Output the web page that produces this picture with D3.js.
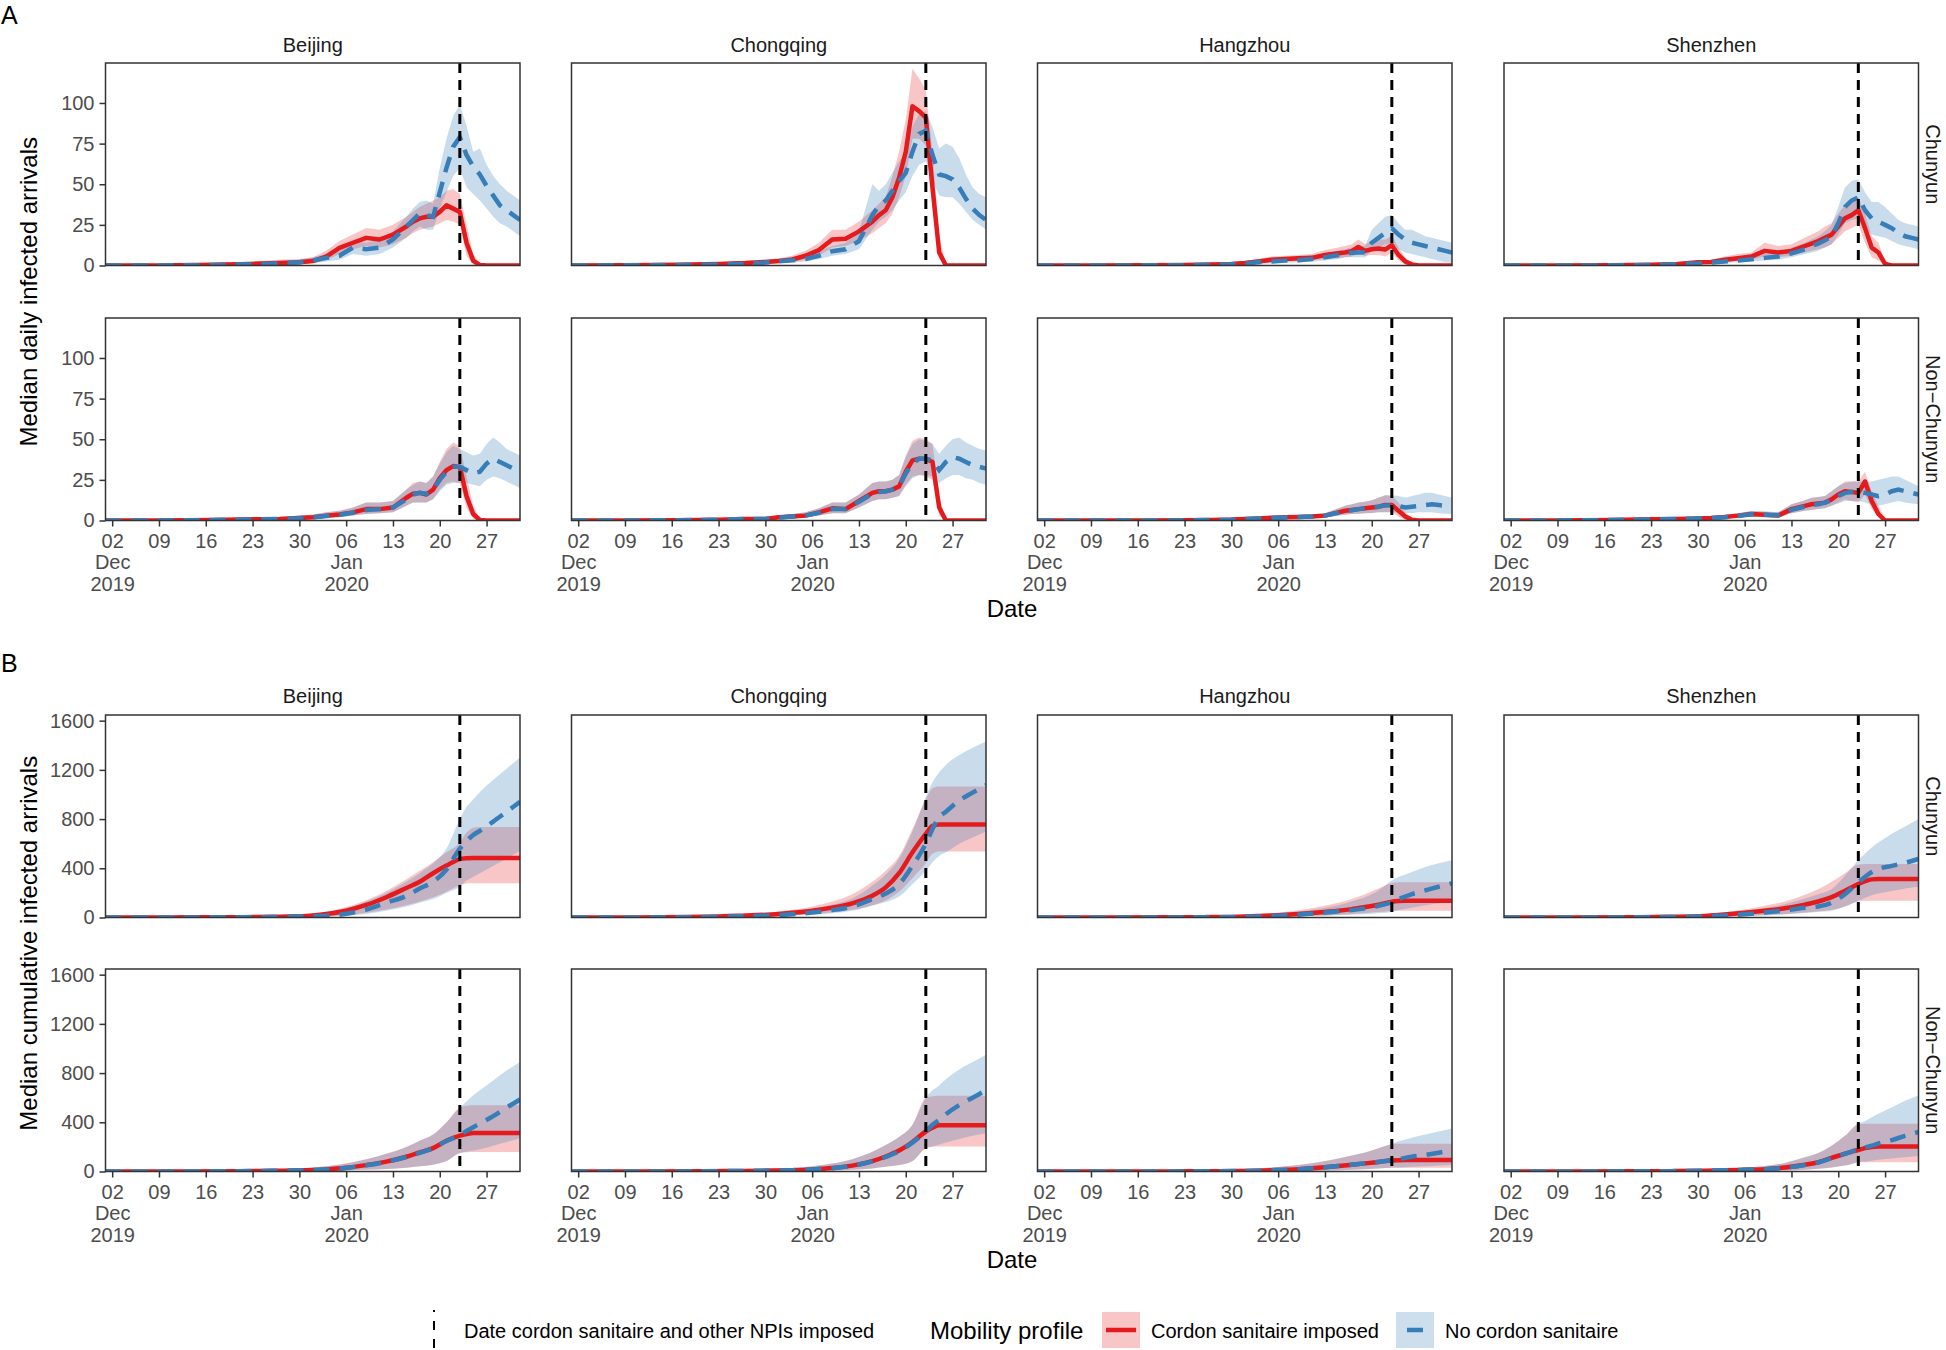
<!DOCTYPE html>
<html>
<head>
<meta charset="utf-8">
<script src="https://cdn.jsdelivr.net/npm/d3@7"></script>
<style>
  body { margin: 0; background: #fff; }
  svg { font-family: "Liberation Sans", Arial, Helvetica, sans-serif; }
</style>
</head>
<body>
<svg id="chart" width="1946" height="1350"></svg>
<script>
// ---- data: day offsets are counted from 1 Dec 2019 ----
const cities = ["Beijing", "Chongqing", "Hangzhou", "Shenzhen"];
const profiles = ["Chunyun", "Non\u2212Chunyun"];
const lockdownDay = 53; // 23 Jan 2020
const dailyTicks = [0, 25, 50, 75, 100];
const cumTicks = [0, 400, 800, 1200, 1600];

const dailyDays = [0, 8, 16, 22, 26, 29, 31, 33, 35, 37, 39, 41, 43, 45, 46, 47, 48, 49, 50, 51, 52, 53, 54, 55, 56, 57, 58, 59, 60, 61, 62];
const cumDays = [0, 10, 20, 25, 30, 33, 36, 39, 42, 45, 47, 49, 51, 53, 54, 55, 56, 58, 60, 62];

// red = cordon sanitaire imposed, blue = no cordon sanitaire
const daily_Beijing_Chunyun = {
  redMid: [0, 0, 0.5, 1, 1.5, 2, 2.7, 5.5, 10.8, 14, 17, 16, 19, 24, 27, 29, 30, 30, 33, 37, 35, 33, 14, 3, 0.3, 0, 0, 0, 0, 0, 0],
  redLo: [0, 0, 0, 0, 0.5, 1, 1.5, 3, 7, 10, 12, 11, 13, 17, 20, 22, 23, 24, 26, 28, 27, 25, 6, 0.5, 0, 0, 0, 0, 0, 0, 0],
  redHi: [0, 0.5, 1.5, 2.5, 3.5, 4, 5, 9, 15, 19, 23, 22, 25, 30, 33, 36, 38, 40, 42, 46, 47, 44, 25, 7, 1, 0, 0, 0, 0, 0, 0],
  blueMid: [0, 0, 0.3, 0.8, 1.2, 2, 3, 4.7, 6, 11, 10, 11, 16, 24, 28, 32, 31, 30, 45, 60, 73, 79, 68, 61, 56, 49, 43, 37, 34, 31, 28],
  blueLo: [0, 0, 0, 0.2, 0.5, 1, 1.5, 2.5, 3.5, 7, 6, 7, 11, 17, 21, 24, 22, 22, 35, 45, 55, 60, 48, 44, 40, 35, 30, 26, 24, 21, 18],
  blueHi: [0, 0.5, 1, 1.8, 2.5, 3.5, 5, 7, 9, 15, 14, 16, 21, 30, 35, 39, 40, 38, 60, 78, 92, 99, 86, 70, 72, 62, 55, 50, 46, 43, 40]
};
const daily_Beijing_NonChunyun = {
  redMid: [0, 0, 0.3, 0.8, 1, 1.5, 2, 3, 3.7, 5, 7, 7, 8, 14, 16.5, 17, 16, 19, 26, 31, 33.5, 33, 15, 4, 0.3, 0, 0, 0, 0, 0, 0],
  redLo: [0, 0, 0, 0.2, 0.4, 0.7, 1, 1.5, 2, 3, 4, 4.5, 5, 9, 11, 11, 11, 13, 19, 23, 24, 23, 8, 1, 0, 0, 0, 0, 0, 0, 0],
  redHi: [0, 0.3, 0.8, 1.5, 2, 3, 3.5, 5, 6, 8, 11, 11, 12, 19, 23, 24, 23, 27, 36, 44, 48, 46, 27, 9, 1, 0, 0, 0, 0, 0, 0],
  blueMid: [0, 0, 0.3, 0.7, 1, 1.4, 2, 2.8, 3.5, 4.8, 6.5, 7, 8, 13, 16, 17, 16.5, 19, 25, 30, 33, 33, 31, 29, 30, 35, 38, 36, 34, 32, 30],
  blueLo: [0, 0, 0, 0.2, 0.4, 0.7, 1, 1.4, 2, 3, 4, 4.5, 5, 9, 11, 11, 11, 13, 18, 22, 23, 23, 23, 22, 21, 25, 27, 26, 24, 22, 20],
  blueHi: [0, 0.3, 0.8, 1.5, 2, 3, 3.5, 5, 6, 8, 11, 11, 12, 19, 22, 24, 23, 27, 35, 42, 46, 44, 42, 40, 41, 47, 51, 48, 44, 42, 40]
};
const daily_Chongqing_Chunyun = {
  redMid: [0, 0.2, 0.5, 1, 1.5, 2.2, 2.8, 3.7, 6, 9.5, 16, 16.5, 21, 27, 31, 34, 42, 54, 70, 98, 95, 91, 48, 8, 0, 0, 0, 0, 0, 0, 0],
  redLo: [0, 0, 0, 0.3, 0.7, 1, 1.5, 2, 3.5, 6, 11, 12, 15, 20, 23, 26, 32, 42, 55, 78, 78, 74, 35, 4, 0, 0, 0, 0, 0, 0, 0],
  redHi: [0, 0.5, 1.2, 2, 2.8, 3.5, 4.5, 6, 9, 14, 22, 22, 27, 34, 38, 42, 55, 70, 90, 121, 115, 108, 70, 18, 1, 0, 0, 0, 0, 0, 0],
  blueMid: [0, 0.1, 0.3, 0.6, 1, 1.8, 2.6, 3.2, 4, 6, 8.8, 10, 15, 31, 37, 40, 46, 52, 57, 70, 81, 83, 68, 56, 55, 53, 48, 41, 35, 31, 28],
  blueLo: [0, 0, 0.1, 0.3, 0.5, 1, 1.5, 2, 2.5, 4, 6, 7, 10, 22, 27, 30, 34, 40, 45, 55, 62, 64, 52, 43, 42, 42, 38, 33, 28, 25, 22],
  blueHi: [0, 0.3, 0.7, 1.2, 1.8, 2.6, 3.5, 4.5, 6, 9, 12, 14, 21, 50, 46, 50, 57, 64, 70, 86, 93, 95, 85, 72, 75, 73, 66, 56, 48, 44, 42]
};
const daily_Chongqing_NonChunyun = {
  redMid: [0, 0, 0.2, 0.5, 1, 1, 2, 2.5, 3, 5, 7.5, 7, 12, 17, 18, 18, 19, 21, 30, 37, 38, 38, 36, 8, 0, 0, 0, 0, 0, 0, 0],
  redLo: [0, 0, 0, 0.2, 0.5, 0.5, 1, 1.3, 1.8, 3, 4.5, 4.5, 8, 12, 13, 13, 14, 15, 22, 27, 28, 27, 25, 3, 0, 0, 0, 0, 0, 0, 0],
  redHi: [0, 0.2, 0.6, 1, 1.8, 2, 3, 4, 5, 7.5, 11, 11, 16, 23, 24, 24, 25, 28, 40, 49, 51, 50, 47, 15, 0.5, 0, 0, 0, 0, 0, 0],
  blueMid: [0, 0, 0.2, 0.5, 0.9, 1, 1.8, 2.4, 3, 4.8, 7, 7, 11.5, 16.5, 17.5, 18, 19, 21, 29, 35, 38, 38, 37, 31, 36, 39, 38, 36, 34, 33, 32],
  blueLo: [0, 0, 0, 0.2, 0.5, 0.5, 1, 1.3, 1.8, 3, 4.5, 4.5, 8, 12, 13, 13, 14, 15, 21, 26, 28, 28, 27, 23, 26, 28, 28, 26, 25, 23, 22],
  blueHi: [0, 0.2, 0.6, 1, 1.8, 2, 3, 4, 5, 7.5, 11, 11, 16, 23, 24, 24, 25, 28, 39, 47, 50, 49, 47, 41, 46, 50, 51, 48, 46, 44, 43]
};
const daily_Hangzhou_Chunyun = {
  redMid: [0, 0, 0.1, 0.3, 0.6, 1, 1.6, 2.5, 3.5, 4, 4.5, 4.7, 6.5, 7.5, 8, 8.8, 11.4, 9, 10, 10.5, 9.8, 12.5, 6.5, 2.5, 0.7, 0, 0, 0, 0, 0, 0],
  redLo: [0, 0, 0, 0.1, 0.3, 0.5, 0.8, 1.2, 2, 2.5, 2.8, 3, 4, 4.5, 5, 5.5, 7, 6, 6.5, 6.5, 5.5, 8, 3, 0.5, 0, 0, 0, 0, 0, 0, 0],
  redHi: [0, 0.2, 0.4, 0.8, 1.3, 2, 2.8, 4, 5.5, 6, 6.5, 7, 9.5, 11, 12, 13, 16, 13, 15, 16, 16, 18, 11, 5, 1.5, 0.3, 0, 0, 0, 0, 0],
  blueMid: [0, 0, 0.1, 0.2, 0.5, 0.8, 1.2, 2, 2.5, 3, 3.3, 4, 5, 6.5, 7.5, 7.8, 8, 8.2, 14, 17, 20, 23, 19, 16, 14, 13, 12, 11, 10, 9, 8],
  blueLo: [0, 0, 0, 0.1, 0.2, 0.4, 0.6, 1, 1.3, 1.7, 2, 2.3, 3, 4, 5, 5, 5, 5, 9, 11, 13, 13, 10, 8, 7, 6, 5, 4, 3, 2, 1.5],
  blueHi: [0, 0.1, 0.3, 0.5, 0.9, 1.3, 2, 3, 4, 4.5, 5, 6, 7.5, 9, 10, 11, 12, 12, 22, 26, 30, 31, 26, 22, 22, 20, 18, 17, 16, 15, 14]
};
const daily_Hangzhou_NonChunyun = {
  redMid: [0, 0, 0, 0.1, 0.3, 0.6, 1, 1.3, 1.7, 2, 2.2, 2.5, 3, 5, 6, 6.5, 7, 7.5, 8, 8.5, 9.5, 9.5, 6, 2.5, 0.5, 0, 0, 0, 0, 0, 0],
  redLo: [0, 0, 0, 0, 0.1, 0.3, 0.5, 0.7, 1, 1.1, 1.2, 1.4, 1.8, 3, 3.5, 4, 4.2, 4.4, 4.6, 5, 5, 5, 2.5, 0.5, 0, 0, 0, 0, 0, 0, 0],
  redHi: [0, 0, 0.2, 0.4, 0.7, 1.1, 1.6, 2, 2.5, 3, 3.3, 3.7, 4.5, 7.5, 9, 10, 11, 11.5, 12.5, 14, 15.5, 15, 11, 5, 1.5, 0.2, 0, 0, 0, 0, 0],
  blueMid: [0, 0, 0, 0.1, 0.3, 0.5, 0.9, 1.2, 1.6, 1.9, 2.1, 2.4, 3, 4.8, 5.8, 6.3, 7, 7.5, 8, 8.5, 9.3, 9.5, 9, 8, 8.5, 9, 9.5, 10, 9.5, 9, 8.5],
  blueLo: [0, 0, 0, 0, 0.1, 0.3, 0.5, 0.7, 1, 1.1, 1.2, 1.4, 1.8, 3, 3.5, 4, 4.2, 4.4, 4.6, 5, 5, 5, 5, 4.5, 4.5, 5, 5, 5, 4.5, 4.2, 4],
  blueHi: [0, 0, 0.2, 0.4, 0.7, 1.1, 1.6, 2, 2.5, 3, 3.3, 3.7, 4.5, 7.5, 9, 10, 11, 11.5, 12.5, 14, 15.5, 15.5, 15, 14, 15, 16, 17, 17, 16, 15, 14]
};
const daily_Shenzhen_Chunyun = {
  redMid: [0, 0, 0.1, 0.5, 1, 2, 2.2, 3.5, 4.5, 5.5, 9, 8, 9, 12, 13.5, 15, 17, 19, 24, 29, 31, 34, 23, 11, 8, 1, 0, 0, 0, 0, 0],
  redLo: [0, 0, 0, 0.3, 0.6, 1, 1.2, 2, 2.8, 3.5, 5.5, 5, 6, 8, 9, 10, 11, 13, 17, 21, 23, 25, 14, 5, 3, 0.2, 0, 0, 0, 0, 0],
  redHi: [0, 0.1, 0.4, 1, 1.8, 3, 3.5, 5.5, 7, 8, 14, 12, 13, 17, 19, 21, 24, 26, 32, 37, 39, 42, 32, 18, 14, 3, 0, 0, 0, 0, 0],
  blueMid: [0, 0, 0.1, 0.3, 0.8, 1.3, 1.8, 2.5, 3, 3.8, 4.7, 5.5, 7.5, 10, 12, 13.5, 15.5, 18, 26, 36, 40, 42, 34, 29, 27, 25, 23, 20, 18, 17, 16],
  blueLo: [0, 0, 0, 0.1, 0.4, 0.7, 1, 1.5, 2, 2.5, 3, 3.5, 5, 7, 8, 9, 11, 13, 19, 26, 28, 29, 23, 19, 18, 17, 15, 13, 12, 11, 10],
  blueHi: [0, 0.1, 0.3, 0.7, 1.3, 2, 2.7, 3.8, 4.5, 5.5, 7, 8, 11, 14, 16, 18, 21, 25, 36, 48, 52, 53, 45, 39, 39, 36, 32, 28, 26, 25, 24]
};
const daily_Shenzhen_NonChunyun = {
  redMid: [0, 0, 0.3, 0.8, 1, 1.3, 1.6, 2.2, 3, 4, 3.5, 3, 7, 9, 10, 10.5, 11, 13, 16, 18, 17.5, 17, 24, 12, 4, 0, 0, 0, 0, 0, 0],
  redLo: [0, 0, 0.1, 0.4, 0.5, 0.7, 0.9, 1.2, 1.8, 2.5, 2, 2, 4.5, 6, 6.5, 7, 7.5, 9, 11, 13, 12, 11, 16, 7, 2, 0, 0, 0, 0, 0, 0],
  redHi: [0, 0.1, 0.6, 1.3, 1.6, 2, 2.4, 3.3, 4.4, 5.8, 5.5, 5, 10, 12.5, 14, 14.5, 15, 18, 21, 24, 24, 24, 30, 18, 9, 1, 0, 0, 0, 0, 0],
  blueMid: [0, 0, 0.3, 0.7, 0.9, 1.2, 1.5, 2, 2.8, 3.8, 3.6, 3.2, 6.5, 8.5, 9.5, 10, 11, 12.5, 15, 17, 17.5, 18, 17, 16, 15, 16, 18, 19, 18, 17, 16],
  blueLo: [0, 0, 0.1, 0.4, 0.5, 0.7, 0.9, 1.2, 1.8, 2.5, 2, 2, 4.5, 6, 6.5, 7, 7.5, 9, 10.5, 12, 12, 12, 11, 10, 9, 10, 11, 12, 11, 10.5, 10],
  blueHi: [0, 0.1, 0.6, 1.3, 1.6, 2, 2.4, 3.3, 4.4, 5.8, 5.5, 5, 10, 12.5, 14, 14.5, 15, 18, 21, 23, 24, 24, 24, 24, 25, 26, 27, 27, 25, 23, 21]
};

const cum_Beijing_Chunyun = {
  redMid: [0, 1, 3, 6, 12, 28, 55, 102, 165, 240, 290, 360, 422, 475, 482, 484, 484, 484, 484, 484],
  redLo: [0, 0, 1, 2, 5, 10, 20, 38, 65, 100, 130, 165, 210, 262, 276, 278, 278, 278, 278, 278],
  redHi: [0, 2, 6, 12, 25, 45, 85, 140, 215, 310, 380, 450, 530, 610, 690, 730, 735, 735, 735, 735],
  blueMid: [0, 0.5, 2, 4, 10, 14, 30, 65, 120, 175, 235, 290, 390, 560, 620, 670, 705, 780, 860, 940],
  blueLo: [0, 0, 0.5, 1, 3, 6, 14, 28, 55, 90, 120, 150, 200, 250, 300, 330, 360, 420, 480, 540],
  blueHi: [0, 1.5, 5, 10, 20, 40, 75, 130, 200, 290, 360, 440, 560, 800, 900, 960, 1020, 1120, 1210, 1300]
};
const cum_Beijing_NonChunyun = {
  redMid: [0, 0.5, 3, 6, 10, 17, 30, 52, 80, 120, 155, 190, 250, 292, 305, 313, 313, 313, 313, 313],
  redLo: [0, 0, 0.5, 1.5, 3, 5, 9, 14, 20, 30, 42, 55, 85, 150, 157, 158, 158, 158, 158, 158],
  redHi: [0, 2, 8, 15, 28, 42, 65, 100, 145, 200, 250, 300, 400, 520, 535, 539, 539, 539, 539, 539],
  blueMid: [0, 0.5, 3, 6, 10, 17, 29, 50, 78, 118, 152, 188, 248, 294, 330, 360, 390, 450, 520, 585],
  blueLo: [0, 0, 0.5, 1.5, 3, 5, 9, 14, 20, 30, 42, 55, 85, 150, 160, 170, 180, 210, 240, 270],
  blueHi: [0, 2, 8, 15, 28, 42, 65, 100, 145, 200, 250, 300, 400, 520, 570, 620, 660, 740, 820, 890]
};
const cum_Chongqing_Chunyun = {
  redMid: [0, 1, 6, 14, 25, 38, 55, 80, 115, 177, 245, 360, 530, 680, 745, 756, 756, 756, 756, 756],
  redLo: [0, 0, 2, 6, 12, 18, 28, 42, 62, 100, 140, 210, 320, 440, 520, 537, 537, 537, 537, 537],
  redHi: [0, 2, 12, 25, 42, 62, 90, 130, 190, 290, 380, 500, 720, 960, 1050, 1065, 1065, 1065, 1065, 1065],
  blueMid: [0, 0.5, 4, 10, 18, 27, 40, 60, 90, 150, 195, 270, 420, 600, 720, 816, 860, 950, 1015, 1075],
  blueLo: [0, 0, 1.5, 4, 9, 14, 22, 35, 55, 95, 125, 170, 270, 380, 450, 500, 530, 600, 650, 700],
  blueHi: [0, 1.5, 9, 20, 34, 50, 72, 105, 155, 260, 350, 480, 700, 980, 1100, 1180, 1240, 1320, 1380, 1430]
};
const cum_Chongqing_NonChunyun = {
  redMid: [0, 0.3, 2, 4, 8, 11, 17, 28, 48, 85, 122, 170, 240, 325, 355, 375, 375, 375, 375, 375],
  redLo: [0, 0, 0.3, 1, 2, 3, 5, 8, 14, 25, 38, 52, 85, 190, 202, 204, 204, 204, 204, 204],
  redHi: [0, 1.5, 6, 12, 20, 28, 42, 65, 100, 160, 215, 280, 380, 600, 612, 615, 615, 615, 615, 615],
  blueMid: [0, 0.3, 2, 4, 8, 11, 17, 27, 46, 82, 118, 165, 235, 325, 380, 420, 465, 540, 600, 660],
  blueLo: [0, 0, 0.3, 1, 2, 3, 5, 8, 14, 25, 38, 52, 85, 190, 205, 220, 235, 265, 290, 310],
  blueHi: [0, 1.5, 6, 12, 20, 28, 42, 65, 100, 160, 215, 280, 380, 600, 660, 700, 750, 830, 890, 950]
};
const cum_Hangzhou_Chunyun = {
  redMid: [0, 0.3, 1.5, 3, 7, 12, 19, 28, 40, 55, 68, 85, 103, 128, 134, 136, 136, 136, 136, 136],
  redLo: [0, 0, 0.4, 1, 2, 4, 7, 10, 15, 22, 28, 36, 45, 52, 54, 54, 54, 54, 54, 54],
  redHi: [0, 1, 4, 8, 16, 26, 40, 58, 85, 120, 150, 190, 235, 280, 286, 286, 286, 286, 286, 286],
  blueMid: [0, 0.2, 1, 2, 5, 9, 15, 23, 35, 50, 60, 74, 95, 125, 150, 170, 190, 220, 250, 278],
  blueLo: [0, 0, 0.2, 0.6, 1.5, 3, 5, 8, 12, 18, 22, 27, 35, 45, 60, 70, 80, 100, 115, 130],
  blueHi: [0, 0.7, 3, 6, 12, 20, 32, 48, 70, 100, 130, 165, 220, 300, 330, 350, 370, 410, 440, 465]
};
const cum_Hangzhou_NonChunyun = {
  redMid: [0, 0.1, 0.8, 2, 4, 7, 12, 19, 30, 44, 55, 66, 78, 90, 92, 93, 93, 93, 93, 93],
  redLo: [0, 0, 0.1, 0.3, 0.8, 1.5, 2.5, 4, 7, 11, 15, 19, 24, 30, 30, 30, 30, 30, 30, 30],
  redHi: [0, 0.8, 4, 8, 15, 24, 36, 52, 75, 105, 130, 155, 190, 222, 226, 226, 226, 226, 226, 226],
  blueMid: [0, 0.1, 0.8, 2, 4, 7, 12, 19, 30, 44, 55, 66, 78, 92, 100, 110, 120, 135, 153, 171],
  blueLo: [0, 0, 0.1, 0.3, 0.8, 1.5, 2.5, 4, 7, 11, 15, 19, 24, 30, 32, 35, 38, 42, 48, 55],
  blueHi: [0, 0.8, 4, 8, 15, 24, 36, 52, 75, 105, 130, 155, 190, 226, 245, 260, 275, 300, 325, 350]
};
const cum_Shenzhen_Chunyun = {
  redMid: [0, 0.5, 3, 6, 13, 24, 38, 55, 75, 105, 130, 165, 218, 272, 295, 310, 313, 313, 313, 313],
  redLo: [0, 0, 0.8, 2, 4, 8, 13, 20, 28, 40, 50, 62, 90, 130, 136, 136, 136, 136, 136, 136],
  redHi: [0, 1.5, 7, 14, 26, 42, 65, 95, 130, 185, 230, 290, 360, 430, 435, 435, 435, 435, 435, 435],
  blueMid: [0, 0.3, 2, 4, 9, 16, 26, 40, 58, 80, 90, 120, 190, 285, 330, 370, 395, 420, 445, 476],
  blueLo: [0, 0, 0.5, 1.2, 3, 6, 10, 16, 24, 36, 45, 55, 90, 136, 160, 180, 195, 215, 235, 250],
  blueHi: [0, 1, 5, 10, 20, 33, 52, 78, 108, 155, 190, 230, 340, 465, 520, 570, 610, 680, 740, 800]
};
const cum_Shenzhen_NonChunyun = {
  redMid: [0, 0.2, 1.5, 3, 7, 10, 14, 19, 32, 55, 75, 110, 145, 175, 190, 200, 204, 204, 204, 204],
  redLo: [0, 0, 0.2, 0.6, 1.5, 2.5, 3.5, 5, 9, 15, 22, 32, 48, 74, 76, 76, 76, 76, 76, 76],
  redHi: [0, 1, 5, 9, 16, 23, 32, 45, 70, 115, 150, 210, 290, 385, 389, 389, 389, 389, 389, 389],
  blueMid: [0, 0.2, 1.5, 3, 7, 10, 14, 19, 31, 53, 73, 108, 143, 180, 195, 210, 228, 255, 290, 321],
  blueLo: [0, 0, 0.2, 0.6, 1.5, 2.5, 3.5, 5, 9, 15, 22, 32, 48, 76, 82, 88, 95, 105, 115, 125],
  blueHi: [0, 1, 5, 9, 16, 23, 32, 45, 70, 115, 150, 210, 290, 389, 410, 440, 470, 520, 575, 620]
};

const dailyPanels = [
  [daily_Beijing_Chunyun, daily_Chongqing_Chunyun, daily_Hangzhou_Chunyun, daily_Shenzhen_Chunyun],
  [daily_Beijing_NonChunyun, daily_Chongqing_NonChunyun, daily_Hangzhou_NonChunyun, daily_Shenzhen_NonChunyun]
];
const cumPanels = [
  [cum_Beijing_Chunyun, cum_Chongqing_Chunyun, cum_Hangzhou_Chunyun, cum_Shenzhen_Chunyun],
  [cum_Beijing_NonChunyun, cum_Chongqing_NonChunyun, cum_Hangzhou_NonChunyun, cum_Shenzhen_NonChunyun]
];

// ---- layout ----
const FONT = "'Liberation Sans', Arial, Helvetica, sans-serif";
const RED = "#E41A1C", BLUE = "#377EB8";
const colX = [105.5, 571.5, 1037.5, 1504];
const panelW = 414.5, panelH = 202.5;

const blocks = [
  { tag: "A", tagY: 24, stripY: 52, rowTop: [63, 318], yMax: 124.6, ticks: dailyTicks,
    days: dailyDays, panels: dailyPanels, title: "Median daily infected arrivals",
    xTitleY: 617, curve: d3.curveLinear },
  { tag: "B", tagY: 672, stripY: 703, rowTop: [715, 969], yMax: 1646, ticks: cumTicks,
    days: cumDays, panels: cumPanels, title: "Median cumulative infected arrivals",
    xTitleY: 1268, curve: d3.curveMonotoneX }
];

const svg = d3.select("#chart");
const dayDate = d => new Date(Date.UTC(2019, 11, 1 + d));

const x = d3.scaleUtc()
  .domain([dayDate(0), dayDate(62)])
  .range([0, panelW]);
const tickDates = d3.utcMonday.range(dayDate(0), dayDate(62));
const fmtDay = d3.utcFormat("%d");

function tickLines(d, i) {
  if (i === 0 || d.getUTCDate() <= 7) {
    return [fmtDay(d), d3.utcFormat("%b")(d), d3.utcFormat("%Y")(d)];
  }
  return [fmtDay(d)];
}

let clipId = 0;

blocks.forEach(function(b) {
  const y = d3.scaleLinear().domain([0, b.yMax]).range([panelH, 0]);

  // block tag
  svg.append("text")
    .attr("x", 1).attr("y", b.tagY)
    .attr("font-size", 25).attr("fill", "#000")
    .text(b.tag);

  // city strips
  svg.selectAll(null)
    .data(cities)
    .enter()
    .append("text")
    .attr("x", (d, i) => colX[i] + panelW / 2)
    .attr("y", b.stripY)
    .attr("text-anchor", "middle")
    .attr("font-size", 20)
    .attr("fill", "#1A1A1A")
    .text(d => d);

  // profile strips
  svg.selectAll(null)
    .data(profiles)
    .enter()
    .append("text")
    .attr("transform", (d, r) => "translate(1926," + (b.rowTop[r] + panelH / 2) + ") rotate(90)")
    .attr("text-anchor", "middle")
    .attr("font-size", 20)
    .attr("fill", "#1A1A1A")
    .text(d => d);

  // y title
  svg.append("text")
    .attr("transform", "translate(37," + ((b.rowTop[0] + b.rowTop[1] + panelH) / 2) + ") rotate(-90)")
    .attr("text-anchor", "middle")
    .attr("font-size", 24)
    .attr("fill", "#000")
    .text(b.title);

  // x title
  svg.append("text")
    .attr("x", (colX[0] + colX[3] + panelW) / 2)
    .attr("y", b.xTitleY)
    .attr("text-anchor", "middle")
    .attr("font-size", 24)
    .attr("fill", "#000")
    .text("Date");

  profiles.forEach(function(p, r) {
    cities.forEach(function(c, ci) {
      const s = b.panels[r][ci];
      const g = svg.append("g")
        .attr("transform", "translate(" + colX[ci] + "," + b.rowTop[r] + ")");

      const id = "clip" + (clipId++);
      g.append("clipPath").attr("id", id)
        .append("rect").attr("width", panelW).attr("height", panelH);

      const pts = b.days.map((d, i) => ({
        date: dayDate(d),
        redMid: s.redMid[i], redLo: s.redLo[i], redHi: s.redHi[i],
        blueMid: s.blueMid[i], blueLo: s.blueLo[i], blueHi: s.blueHi[i]
      }));

      const plot = g.append("g").attr("clip-path", "url(#" + id + ")");

      const band = (lo, hi) => d3.area()
        .x(d => x(d.date))
        .y0(d => y(d[lo]))
        .y1(d => y(d[hi]))
        .curve(b.curve);
      const mid = key => d3.line()
        .x(d => x(d.date))
        .y(d => y(d[key]))
        .curve(b.curve);

      plot.append("path").datum(pts)
        .attr("d", band("redLo", "redHi"))
        .attr("fill", RED).attr("fill-opacity", 0.25);
      plot.append("path").datum(pts)
        .attr("d", band("blueLo", "blueHi"))
        .attr("fill", BLUE).attr("fill-opacity", 0.27);
      plot.append("path").datum(pts)
        .attr("d", mid("redMid"))
        .attr("fill", "none").attr("stroke", RED)
        .attr("stroke-width", 4.5).attr("stroke-linejoin", "round");
      plot.append("path").datum(pts)
        .attr("d", mid("blueMid"))
        .attr("fill", "none").attr("stroke", BLUE)
        .attr("stroke-width", 4.5).attr("stroke-dasharray", "16,10");

      // lockdown date
      plot.append("line")
        .attr("x1", x(dayDate(lockdownDay))).attr("x2", x(dayDate(lockdownDay)))
        .attr("y1", 0).attr("y2", panelH)
        .attr("stroke", "#000").attr("stroke-width", 3)
        .attr("stroke-dasharray", "10,7");

      g.append("rect")
        .attr("width", panelW).attr("height", panelH)
        .attr("fill", "none").attr("stroke", "#333").attr("stroke-width", 1.5);

      if (ci === 0) {
        const ya = g.append("g")
          .call(d3.axisLeft(y).tickValues(b.ticks).tickSize(6).tickPadding(5).tickFormat(d3.format("d")));
        ya.attr("font-family", FONT).attr("font-size", 20);
        ya.select(".domain").remove();
        ya.selectAll(".tick line").attr("stroke", "#333").attr("stroke-width", 1.5);
        ya.selectAll(".tick text").attr("fill", "#4D4D4D");
      }

      if (r === 1) {
        const xa = g.append("g")
          .attr("transform", "translate(0," + panelH + ")")
          .call(d3.axisBottom(x).tickValues(tickDates).tickSize(6).tickPadding(7).tickFormat(fmtDay));
        xa.attr("font-family", FONT).attr("font-size", 20);
        xa.select(".domain").remove();
        xa.selectAll(".tick line").attr("stroke", "#333").attr("stroke-width", 1.5);
        xa.selectAll(".tick text").each(function(d, i) {
          const t = d3.select(this).attr("fill", "#4D4D4D").attr("dy", null).text(null);
          tickLines(d, i).forEach(function(line, k) {
            t.append("tspan")
              .attr("x", 0)
              .attr("dy", k === 0 ? "0.71em" : "1.08em")
              .text(line);
          });
        });
      }
    });
  });
});

// ---- legend ----
const leg = svg.append("g");
leg.append("line")
  .attr("x1", 434).attr("x2", 434).attr("y1", 1310).attr("y2", 1350)
  .attr("stroke", "#000").attr("stroke-width", 2).attr("stroke-dasharray", "9,9")
  .attr("stroke-dashoffset", 7);
leg.append("text").attr("x", 464).attr("y", 1338).attr("font-size", 20)
  .text("Date cordon sanitaire and other NPIs imposed");
leg.append("text").attr("x", 930).attr("y", 1339).attr("font-size", 24)
  .text("Mobility profile");

const keys = [
  { label: "Cordon sanitaire imposed", color: RED, x: 1102, dash: null },
  { label: "No cordon sanitaire", color: BLUE, x: 1396, dash: "16,10" }
];
keys.forEach(function(k) {
  leg.append("rect")
    .attr("x", k.x).attr("y", 1312).attr("width", 38).attr("height", 36)
    .attr("fill", k.color).attr("fill-opacity", 0.25);
  leg.append("line")
    .attr("x1", k.x + 4).attr("x2", k.x + 34).attr("y1", 1330).attr("y2", 1330)
    .attr("stroke", k.color).attr("stroke-width", 4.5)
    .attr("stroke-dasharray", k.dash ? "0,7,16,20" : null);
  leg.append("text").attr("x", k.x + 49).attr("y", 1338).attr("font-size", 20)
    .text(k.label);
});
</script>
</body>
</html>
